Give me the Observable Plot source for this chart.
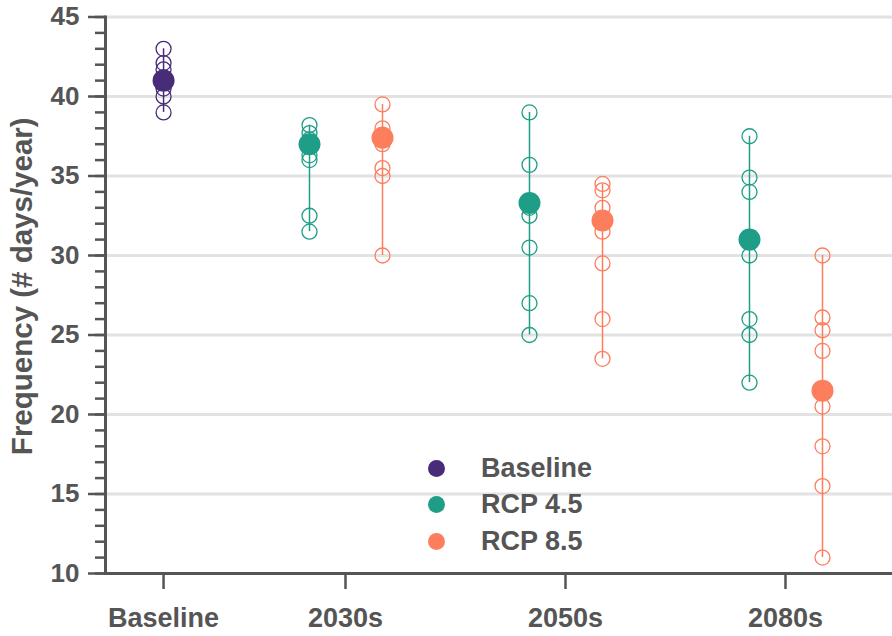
<!DOCTYPE html>
<html>
<head>
<meta charset="utf-8">
<script src="https://cdn.jsdelivr.net/npm/d3@7"></script>
<script src="https://cdn.jsdelivr.net/npm/@observablehq/plot@0.6"></script>
<style>
  html, body { margin: 0; padding: 0; background: #fff; }
  #wrap { position: relative; width: 892px; height: 636px; font-family: "Liberation Sans", Arial, sans-serif; }
  #legend { position: absolute; left: 428px; top: 450px; color: #555; font-weight: bold; font-size: 27px; }
  .row { display: flex; align-items: center; height: 36.5px; }
  .sw { width: 17px; height: 17px; border-radius: 50%; margin-right: 36px; }
</style>
</head>
<body>
<div id="wrap"><div id="legend"></div></div>
<script>
// ---- data ----
const periods = ["Baseline", "2030s", "2050s", "2080s"];
const scenarios = ["Baseline", "RCP 4.5", "RCP 8.5"];
const colors = ["#472c7a", "#1f9e87", "#fc7e5d"];

// individual model values (open circles)
const baselineModels = [43.0, 42.1, 41.7, 41.2, 40.5, 40.0, 39.0];
const rcp45_2030s = [38.2, 37.7, 37.3, 36.3, 36.0, 32.5, 31.5];
const rcp85_2030s = [39.5, 38.0, 37.6, 37.0, 35.5, 35.0, 30.0];
const rcp45_2050s = [39.0, 35.7, 33.0, 32.5, 30.5, 27.0, 25.0];
const rcp85_2050s = [34.5, 34.1, 33.0, 31.5, 29.5, 26.0, 23.5];
const rcp45_2080s = [37.5, 34.9, 34.0, 30.0, 26.0, 25.0, 22.0];
const rcp85_2080s = [30.0, 26.1, 25.3, 24.0, 20.5, 18.0, 15.5, 11.0];

// ensemble means (filled circles)
const baselineMean = [41.0];
const rcp45Means = [37.0, 33.3, 31.0];   // 2030s, 2050s, 2080s
const rcp85Means = [37.4, 32.2, 21.5];

const yTicks = [10, 15, 20, 25, 30, 35, 40, 45];
const yLabel = "Frequency (# days/year)";

// axis placement of the period categories (layout, not data)
const periodAxisPos = [0.173, 1, 2, 3];

// ---- build tables ----
const members = [];
const means = [];
baselineModels.forEach(v => members.push({period: "Baseline", scenario: "Baseline", value: v}));
means.push({period: "Baseline", scenario: "Baseline", value: baselineMean[0]});
const futures = ["2030s", "2050s", "2080s"];
const r45 = [rcp45_2030s, rcp45_2050s, rcp45_2080s];
const r85 = [rcp85_2030s, rcp85_2050s, rcp85_2080s];
futures.forEach((p, i) => {
  r45[i].forEach(v => members.push({period: p, scenario: "RCP 4.5", value: v}));
  r85[i].forEach(v => members.push({period: p, scenario: "RCP 8.5", value: v}));
  means.push({period: p, scenario: "RCP 4.5", value: rcp45Means[i]});
  means.push({period: p, scenario: "RCP 8.5", value: rcp85Means[i]});
});
const ranges = d3.flatRollup(members, v => ({lo: d3.min(v, d => d.value), hi: d3.max(v, d => d.value)}), d => d.period, d => d.scenario)
  .map(([period, scenario, r]) => ({period, scenario, ...r}));

const xi = d => periodAxisPos[periods.indexOf(d.period)];
const dodge = {"Baseline": 0, "RCP 4.5": -36, "RCP 8.5": 37};

const seriesMarks = scenarios.flatMap((s, k) => {
  const f = d => d.scenario === s;
  const c = colors[k];
  return [
    Plot.ruleX(ranges.filter(f), {x: xi, y1: "lo", y2: "hi", stroke: c, strokeWidth: 1.5, dx: dodge[s]}),
    Plot.dot(members.filter(f), {x: xi, y: "value", r: 7.5, stroke: c, strokeWidth: 1.3, fill: "none", dx: dodge[s]}),
    Plot.dot(means.filter(f), {x: xi, y: "value", r: 11, fill: c, stroke: "none", dx: dodge[s]})
  ];
});

const chart = Plot.plot({
  width: 892,
  height: 636,
  marginLeft: 105,
  marginRight: 0,
  marginTop: 16.5,
  marginBottom: 63,
  style: {fontFamily: "'Liberation Sans', Arial, sans-serif", fontWeight: "bold", color: "#555", background: "transparent"},
  x: {type: "linear", domain: [-0.0909, 3.4864]},
  y: {domain: [10, 45]},
  marks: [
    Plot.gridY({ticks: yTicks.slice(1), stroke: "#e2e2e2", strokeOpacity: 1, strokeWidth: 3}),
    Plot.axisY({ticks: d3.range(10, 46, 1), tickSize: 10, text: null, stroke: "#555", strokeWidth: 2.5, label: null}),
    Plot.axisY({ticks: yTicks, tickSize: 17, tickPadding: 9, fontSize: 26, stroke: "#555", strokeWidth: 2.5, label: null}),
    Plot.axisX({ticks: periodAxisPos, tickFormat: v => periods[periodAxisPos.indexOf(v)], tickSize: 16, tickPadding: 18, fontSize: 27, stroke: "#555", strokeWidth: 2.5, label: null}),
    Plot.ruleY([10], {stroke: "#555", strokeWidth: 3}),
    Plot.frame({anchor: "left", stroke: "#555", strokeWidth: 3}),
    Plot.text([yLabel], {frameAnchor: "left", textAnchor: "middle", rotate: -90, dx: -83, dy: -9, fontSize: 29.5, fill: "#555"}),
    ...seriesMarks
  ]
});
document.getElementById("wrap").prepend(chart);

// legend
const legend = document.getElementById("legend");
scenarios.forEach((s, k) => {
  const row = document.createElement("div");
  row.className = "row";
  const sw = document.createElement("span");
  sw.className = "sw";
  sw.style.background = colors[k];
  const t = document.createElement("span");
  t.textContent = s;
  row.append(sw, t);
  legend.append(row);
});
</script>
</body>
</html>
